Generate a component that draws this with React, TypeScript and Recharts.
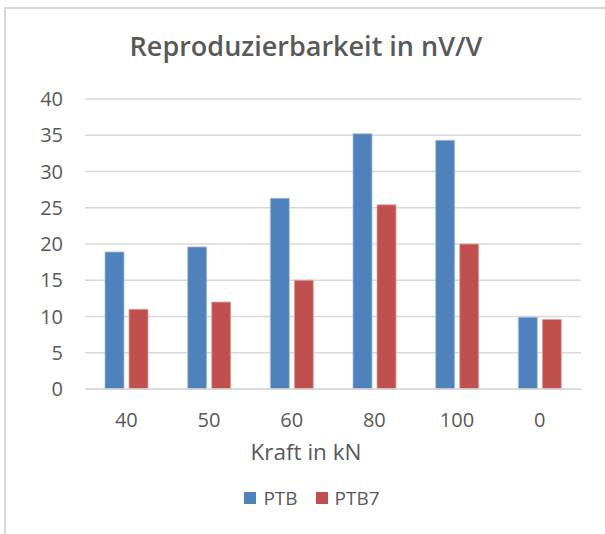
import React from 'react';
import { BarChart, Bar, XAxis, YAxis, CartesianGrid, Legend } from 'recharts';

const categories = ['40', '50', '60', '80', '100', '0'];
const ptbValues = [18.9, 19.6, 26.3, 35.2, 34.3, 9.9];
const ptb7Values = [11, 12, 15, 25.4, 20, 9.6];
const yTicks = [0, 5, 10, 15, 20, 25, 30, 35, 40];

const data = categories.map((kraft, i) => ({
  kraft,
  PTB: ptbValues[i],
  PTB7: ptb7Values[i],
}));

const font = '"Open Sans", "Noto Sans", sans-serif';
const textColor = '#595959';

const LegendContent = () => (
  <div style={{ display: 'flex', justifyContent: 'center', alignItems: 'center', fontFamily: font, fontSize: 19, color: textColor, height: 24 }}>
    <span style={{ width: 12, height: 12, background: '#4f81bd', display: 'inline-block', marginRight: 7 }} />
    <span style={{ marginRight: 18 }}>PTB</span>
    <span style={{ width: 12, height: 12, background: '#c0504d', display: 'inline-block', marginRight: 7 }} />
    <span>PTB7</span>
  </div>
);

const App: React.FC = () => {
  return (
    <div style={{ position: 'fixed', left: 0, top: 0, width: 605, height: 534, overflow: 'hidden', background: '#fff' }}>
      <div style={{ position: 'absolute', left: 4, top: 7, width: 620, height: 560, border: '2px solid #d9d9d9', boxSizing: 'border-box' }} />
      <div style={{ position: 'absolute', left: 0, width: 612, top: 27, textAlign: 'center', fontFamily: font, fontWeight: 600, fontSize: 27, lineHeight: 'normal', color: textColor }}>
        Reproduzierbarkeit in nV/V
      </div>
      <div style={{ position: 'absolute', left: 0, top: 0 }}>
        <BarChart width={605} height={534} data={data} margin={{ top: 99, right: 24, bottom: 24, left: 0 }} barSize={19} barGap={5}>
          <CartesianGrid vertical={false} stroke="#d9d9d9" strokeWidth={1.5} />
          <XAxis
            dataKey="kraft"
            height={97}
            tickLine={false}
            tickSize={0}
            tickMargin={24}
            axisLine={{ stroke: '#d9d9d9', strokeWidth: 1.5 }}
            tick={{ fill: textColor, fontSize: 20, fontFamily: font }}
            label={({ viewBox }: any) => (
              <text x={viewBox.x + viewBox.width / 2 - 27} y={viewBox.y + 71} textAnchor="middle" fill={textColor} fontSize={22.5} fontFamily={font}>
                Kraft in kN
              </text>
            )}
          />
          <YAxis
            width={85}
            domain={[0, 40]}
            ticks={yTicks}
            axisLine={false}
            tickLine={false}
            tickSize={0}
            tickMargin={22}
            tick={{ fill: textColor, fontSize: 20, fontFamily: font }}
          />
          <Legend verticalAlign="bottom" height={24} content={<LegendContent />} wrapperStyle={{ left: 0, width: 624 }} />
          <Bar dataKey="PTB" fill="#4f81bd" stroke="#a7bfdd" strokeWidth={0.8} isAnimationActive={false} />
          <Bar dataKey="PTB7" fill="#c0504d" stroke="#dfa7a6" strokeWidth={0.8} isAnimationActive={false} />
        </BarChart>
      </div>
    </div>
  );
};

export default App;
